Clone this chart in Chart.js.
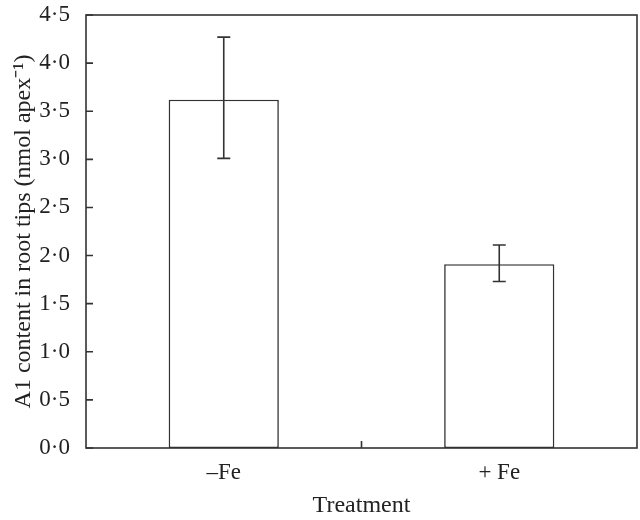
<!DOCTYPE html>
<html>
<head>
<meta charset="utf-8">
<script src="https://cdn.jsdelivr.net/npm/chart.js@4/dist/chart.umd.min.js"></script>
<style>
  body { margin: 0; background: #fff; }
  #wrap { width: 640px; height: 520px; }
</style>
</head>
<body>
<div id="wrap"><canvas id="mycanvas"></canvas></div>
<script>
// values
var categories = ['–Fe', '+ Fe'];
var alContent = [3.62, 1.91];
var errLow = [3.01, 1.73];
var errHigh = [4.27, 2.11];
var yMin = 0, yMax = 4.5, yStep = 0.5;

var ink = '#333333';
var serif = '"Liberation Serif", "Times New Roman", serif';

// error bars, box frame and inward tick marks
var extras = {
    id: 'extras',
    afterDatasetsDraw: function(chart) {
        var ctx = chart.ctx;
        var xs = chart.scales.x, ys = chart.scales.y;
        var area = chart.chartArea;
        var meta = chart.getDatasetMeta(0);
        ctx.save();
        ctx.strokeStyle = ink;
        ctx.lineWidth = 1.6;

        for (var i = 0; i < alContent.length; i++) {
            var cx = meta.data[i].x;
            var top = ys.getPixelForValue(errHigh[i]);
            var bot = ys.getPixelForValue(errLow[i]);
            ctx.beginPath();
            ctx.moveTo(cx, top); ctx.lineTo(cx, bot);
            ctx.moveTo(cx - 6.5, top); ctx.lineTo(cx + 6.5, top);
            ctx.moveTo(cx - 6.5, bot); ctx.lineTo(cx + 6.5, bot);
            ctx.stroke();
        }

        ctx.strokeRect(area.left, area.top, area.right - area.left, area.bottom - area.top);

        ctx.beginPath();
        for (var t = 0; t < ys.ticks.length; t++) {
            var py = ys.getPixelForTick(t);
            ctx.moveTo(area.left, py); ctx.lineTo(area.left + 7, py);
        }
        var mid = (xs.getPixelForValue(0) + xs.getPixelForValue(1)) / 2;
        ctx.moveTo(mid, area.bottom); ctx.lineTo(mid, area.bottom - 7);
        ctx.stroke();
        ctx.restore();
    }
};

var chartdata = {
    labels: categories,
    datasets: [{
        label: 'Al content',
        data: alContent,
        backgroundColor: '#ffffff',
        borderColor: ink,
        borderWidth: 1.6,
        borderSkipped: false,
        categoryPercentage: 1.0,
        barPercentage: 0.4
    }]
};

var ctx = document.getElementById('mycanvas');

var barGraph = new Chart(ctx, {
    type: 'bar',
    data: chartdata,
    plugins: [extras],
    options: {
        responsive: true,
        maintainAspectRatio: false,
        animation: false,
        layout: { padding: { top: 0, right: 3, left: 0, bottom: 0 } },
        plugins: {
            legend: { display: false },
            tooltip: { enabled: false }
        },
        scales: {
            x: {
                grid: { display: false },
                border: { display: false },
                ticks: { color: '#222', padding: 3, font: { family: serif, size: 23 } },
                title: {
                    display: true,
                    text: 'Treatment',
                    color: '#222',
                    padding: { top: 0, bottom: 0 },
                    font: { family: serif, size: 24 }
                },
                afterFit: function(s) { s.height = 72; }
            },
            y: {
                min: yMin,
                max: yMax,
                grid: { display: false },
                border: { display: false },
                ticks: {
                    stepSize: yStep,
                    color: '#222',
                    padding: 8,
                    font: { family: serif, size: 23 },
                    callback: function(v) { return v.toFixed(1).replace('.', '·'); }
                },
                title: {
                    display: true,
                    text: 'A1 content in root tips (nmol apex⁻¹)',
                    color: '#222',
                    padding: { top: 9, bottom: 0 },
                    font: { family: serif, size: 24 }
                },
                afterFit: function(s) { s.width = 86; s.paddingTop = 15; }
            }
        }
    }
});
</script>
</body>
</html>
